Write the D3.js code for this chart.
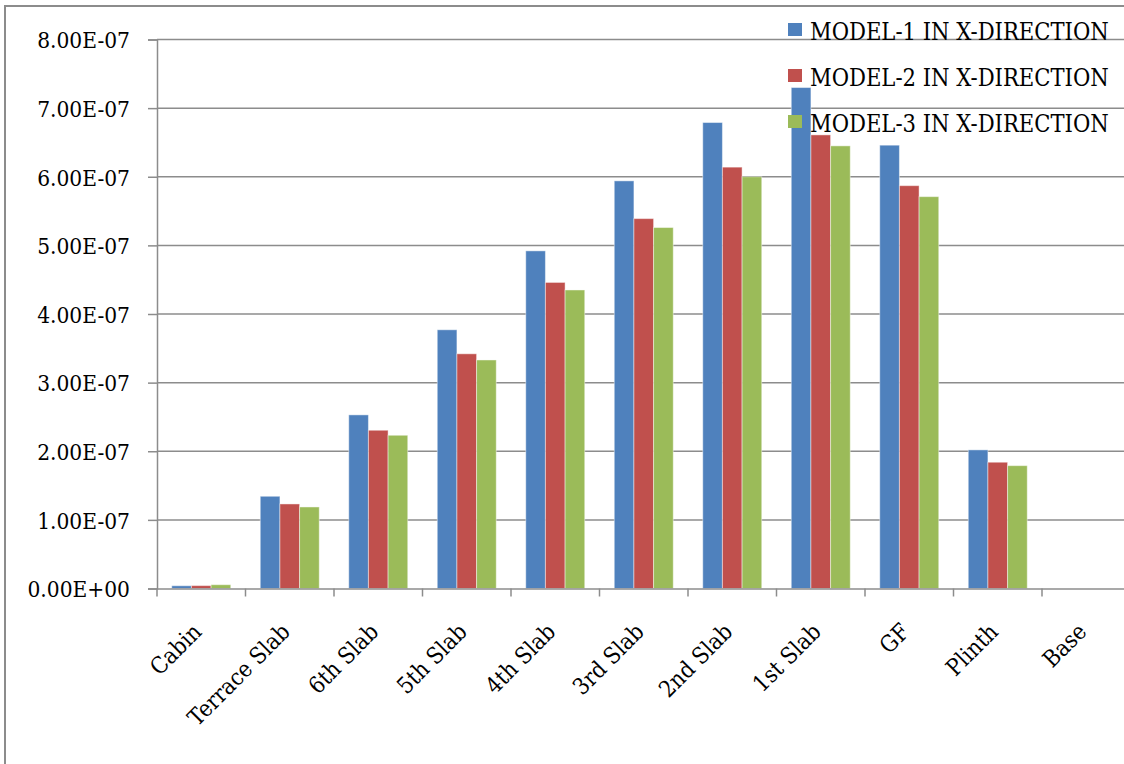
<!DOCTYPE html>
<html lang="en">
<head>
  <meta charset="UTF-8">
  <title>Model displacement chart</title>
  <script src="https://d3js.org/d3.v7.min.js"></script>
  <style>
    html, body { margin: 0; padding: 0; background: #fff; }
    svg { display: block; }
    svg text { font-family: "DejaVu Serif Condensed", "DejaVu Serif", serif; font-stretch: condensed; }
  </style>
</head>
<body>
<div id="chart"></div>
<script>
// data
const categories = ["Cabin", "Terrace Slab", "6th Slab", "5th Slab", "4th Slab", "3rd Slab",
                    "2nd Slab", "1st Slab", "GF", "Plinth", "Base"]
const seriesNames = ["MODEL-1 IN X-DIRECTION", "MODEL-2 IN X-DIRECTION", "MODEL-3 IN X-DIRECTION"]
const model1 = [4.0e-9, 1.344e-7, 2.53e-7, 3.77e-7, 4.92e-7, 5.94e-7, 6.79e-7, 7.30e-7, 6.46e-7, 2.02e-7, 0]
const model2 = [4.2e-9, 1.232e-7, 2.306e-7, 3.42e-7, 4.46e-7, 5.39e-7, 6.14e-7, 6.61e-7, 5.87e-7, 1.84e-7, 0]
const model3 = [5.5e-9, 1.188e-7, 2.233e-7, 3.33e-7, 4.35e-7, 5.26e-7, 6.00e-7, 6.45e-7, 5.71e-7, 1.79e-7, 0]
const yTicks = [0, 1e-7, 2e-7, 3e-7, 4e-7, 5e-7, 6e-7, 7e-7, 8e-7]
const colors = ["#4F81BD", "#C0504D", "#9BBB59"]

const W = 1124, H = 764
const plotLeft = 157, plotTop = 39.5, plotBottom = 588.5
const catW = 88.5
const plotRight = plotLeft + catW * categories.length

const svg = d3.select("#chart").append("svg")
  .attr("width", W).attr("height", H)

// outer frame (only left and top edges visible)
svg.append("path")
  .attr("d", `M5,${H} L5,6 L${W},6`)
  .attr("fill", "none").attr("stroke", "#8c8c8c").attr("stroke-width", 2)

const x = d3.scaleBand().domain(categories).range([plotLeft, plotRight]).paddingInner(0).paddingOuter(0)
const x1 = d3.scaleBand().domain(seriesNames).range([0, catW]).paddingInner(0).paddingOuter(0.75)
const y = d3.scaleLinear().domain([0, 8e-7]).range([plotBottom, plotTop])

// gridlines
svg.append("g")
  .selectAll("line").data(yTicks.slice(1)).join("line")
    .attr("x1", plotLeft).attr("x2", plotRight)
    .attr("y1", d => y(d)).attr("y2", d => y(d))
    .attr("stroke", "#8c8c8c").attr("stroke-width", 1.5)

// y axis
const fmt = d => d3.format(".2e")(d).toUpperCase().replace(/E([+-])(\d)$/, "E$10$2")
const yAxis = svg.append("g")
  .attr("transform", `translate(${plotLeft},0)`)
  .call(d3.axisLeft(y).tickValues(yTicks).tickSize(9).tickPadding(18).tickFormat(fmt))
yAxis.attr("font-family", null)
yAxis.select(".domain").attr("stroke", "#8c8c8c").attr("stroke-width", 1.5)
yAxis.selectAll(".tick line").attr("stroke", "#8c8c8c").attr("stroke-width", 1.5)
yAxis.selectAll(".tick text")
  .attr("font-size", 22.5).attr("fill", "#000")
  .attr("dy", "0.37em")

// bars
const data = [model1, model2, model3]
const groups = svg.append("g")
  .selectAll("g").data(categories).join("g")
    .attr("transform", d => `translate(${x(d)},0)`)
groups.selectAll("rect")
  .data((c, i) => data.map((s, k) => ({ k: k, v: s[i] })))
  .join("rect")
    .attr("x", d => x1(seriesNames[d.k]))
    .attr("width", x1.bandwidth())
    .attr("y", d => y(d.v))
    .attr("height", d => plotBottom - y(d.v))
    .attr("fill", d => colors[d.k])
    .attr("stroke", d => d.v > 0 ? "rgba(255,255,255,0.45)" : "none")
    .attr("stroke-width", 1)

// x axis
const xAxis = svg.append("g")
  .attr("transform", `translate(0,${plotBottom})`)
  .call(d3.axisBottom(x).tickSize(0).tickFormat(""))
xAxis.select(".domain").attr("stroke", "#8c8c8c").attr("stroke-width", 1.5)
xAxis.selectAll(".tick").remove()
xAxis.selectAll(".sep")
  .data(d3.range(categories.length + 1)).join("line")
    .attr("class", "sep")
    .attr("x1", i => plotLeft + i * catW).attr("x2", i => plotLeft + i * catW)
    .attr("y1", 0).attr("y2", 8)
    .attr("stroke", "#8c8c8c").attr("stroke-width", 1.5)

svg.append("g")
  .selectAll("text").data(categories).join("text")
    .attr("transform", d => `translate(${x(d) + catW / 2 - 4},${plotBottom + 39}) rotate(-45)`)
    .attr("text-anchor", "end")
    .attr("dy", "0.35em")
    .attr("font-size", 23)
    .attr("fill", "#000")
    .text(d => d)

// legend
const legend = svg.append("g")
  .selectAll("g").data(seriesNames).join("g")
    .attr("transform", (d, i) => `translate(788,${30 + i * 46})`)
legend.append("rect")
  .attr("x", 0).attr("y", -7).attr("width", 14).attr("height", 13)
  .attr("fill", (d, i) => colors[i])
legend.append("text")
  .attr("x", 22).attr("y", 10)
  .attr("font-size", 23.5)
  .attr("fill", "#000")
  .text(d => d)
</script>
</body>
</html>
